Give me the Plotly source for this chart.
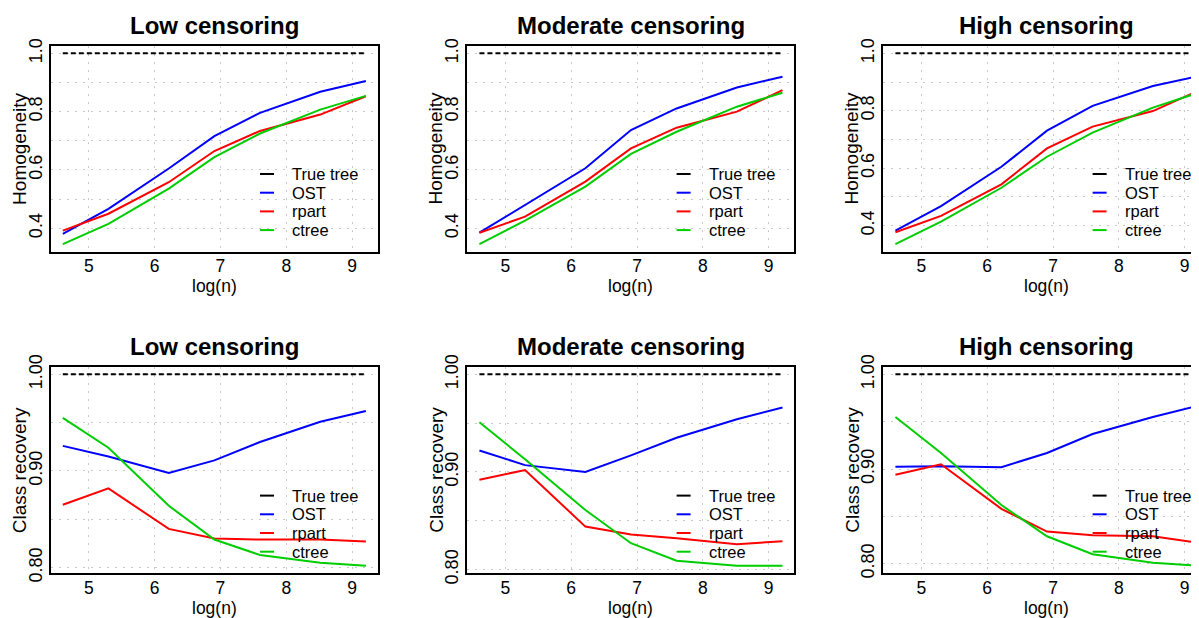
import plotly.graph_objects as go

# ---------------- data ----------------
log_n = [4.605, 5.298, 6.215, 6.908, 7.601, 8.517, 9.210]

series_names = ["True tree", "OST", "rpart", "ctree"]
series_colors = ["black", "#0000FF", "#FF0000", "#00CD00"]

true_tree = [1.0, 1.0, 1.0, 1.0, 1.0, 1.0, 1.0]

hom_low_ost = [0.381, 0.467, 0.605, 0.716, 0.796, 0.868, 0.905]
hom_low_rpart = [0.392, 0.450, 0.558, 0.665, 0.734, 0.790, 0.853]
hom_low_ctree = [0.346, 0.415, 0.536, 0.644, 0.725, 0.807, 0.854]

hom_mod_ost = [0.385, 0.480, 0.606, 0.737, 0.811, 0.883, 0.920]
hom_mod_rpart = [0.385, 0.440, 0.560, 0.674, 0.745, 0.800, 0.874]
hom_mod_ctree = [0.346, 0.426, 0.543, 0.655, 0.731, 0.817, 0.865]

hom_high_ost = [0.383, 0.468, 0.605, 0.731, 0.817, 0.886, 0.921]
hom_high_rpart = [0.377, 0.434, 0.544, 0.669, 0.745, 0.799, 0.870]
hom_high_ctree = [0.336, 0.414, 0.532, 0.640, 0.724, 0.811, 0.863]

cr_low_ost = [0.926, 0.915, 0.898, 0.911, 0.930, 0.951, 0.962]
cr_low_rpart = [0.865, 0.882, 0.840, 0.830, 0.829, 0.829, 0.827]
cr_low_ctree = [0.955, 0.924, 0.864, 0.829, 0.813, 0.805, 0.802]

cr_mod_ost = [0.922, 0.907, 0.900, 0.917, 0.935, 0.954, 0.966]
cr_mod_rpart = [0.892, 0.902, 0.844, 0.836, 0.832, 0.826, 0.829]
cr_mod_ctree = [0.951, 0.913, 0.861, 0.827, 0.809, 0.804, 0.804]

cr_high_ost = [0.9025, 0.903, 0.902, 0.917, 0.937, 0.955, 0.967]
cr_high_rpart = [0.894, 0.905, 0.858, 0.834, 0.830, 0.829, 0.822]
cr_high_ctree = [0.955, 0.917, 0.862, 0.829, 0.810, 0.801, 0.798]

panel_titles = ["Low censoring", "Moderate censoring", "High censoring"]
row_ylabels = ["Homogeneity", "Class recovery"]
x_label = "log(n)"

panels = [
    [true_tree, hom_low_ost, hom_low_rpart, hom_low_ctree],
    [true_tree, hom_mod_ost, hom_mod_rpart, hom_mod_ctree],
    [true_tree, hom_high_ost, hom_high_rpart, hom_high_ctree],
    [true_tree, cr_low_ost, cr_low_rpart, cr_low_ctree],
    [true_tree, cr_mod_ost, cr_mod_rpart, cr_mod_ctree],
    [true_tree, cr_high_ost, cr_high_rpart, cr_high_ctree],
]

# ---------------- layout geometry (screen pixels) ----------------
SCREEN_W, SCREEN_H = 1199, 618
OFF = 8  # page body margin
W, H = SCREEN_W - OFF, SCREEN_H - OFF
col_px = [(50.7, 378.0), (467.3, 794.0), (883.3, 1210.6)]
row_px = [(45.7, 251.7), (366.7, 573.3)]

FONT = "Liberation Sans, Arial, Helvetica, sans-serif"
GRID = "#c8c8c8"
DOT = "2px,6px"

fig = go.Figure()
layout = dict(
    width=W, height=H,
    margin=dict(l=0, r=0, t=0, b=0, autoexpand=False),
    paper_bgcolor="white", plot_bgcolor="white",
    showlegend=False,
    font=dict(family=FONT, color="black"),
)
annotations = []
shapes = []

xlo = min(log_n); xhi = max(log_n)
xpad = 0.04 * (xhi - xlo)
xr_full = [xlo - xpad, xhi + xpad]
px_per_unit = (col_px[0][1] - col_px[0][0]) / (xr_full[1] - xr_full[0])

for idx, data in enumerate(panels):
    r, c = divmod(idx, 3)
    k = idx + 1
    xa = "x" if k == 1 else f"x{k}"
    ya = "y" if k == 1 else f"y{k}"
    xname = "xaxis" if k == 1 else f"xaxis{k}"
    yname = "yaxis" if k == 1 else f"yaxis{k}"

    for name, color, vals in zip(series_names, series_colors, data):
        fig.add_trace(go.Scatter(
            x=log_n, y=vals, mode="lines", name=name,
            line=dict(color=color, width=2,
                      dash="5px,3px" if name == "True tree" else "solid"),
            xaxis=xa, yaxis=ya, showlegend=False, hoverinfo="skip"))

    x0p, x1p = col_px[c]
    y0p, y1p = row_px[r]
    right_px = min(x1p, SCREEN_W)
    xr = [xr_full[0], xr_full[0] + (right_px - x0p) / px_per_unit]

    allv = [v for s in data for v in s]
    ylo, yhi = min(allv), max(allv)
    ypad = 0.04 * (yhi - ylo)

    if r == 0:
        ymaj, ymin_d, yfmt = 0.2, 0.1, ".1f"
    else:
        ymaj, ymin_d, yfmt = 0.1, 0.05, ".2f"

    layout[xname] = dict(
        domain=[(x0p - OFF) / W, (right_px - OFF) / W], range=xr, anchor=ya,
        showline=True, linecolor="black", linewidth=1.5, mirror=True,
        ticks="", tick0=0, dtick=1, showgrid=True, gridcolor=GRID,
        griddash=DOT, gridwidth=1, zeroline=False,
        tickfont=dict(size=17.5, family=FONT, color="black"),
        ticklabelstandoff=-2,
    )
    layout[yname] = dict(
        domain=[1 - (y1p - OFF) / H, 1 - (y0p - OFF) / H],
        range=[ylo - ypad, yhi + ypad],
        anchor=xa,
        showline=True, linecolor="black", linewidth=1.5,
        mirror=(x1p <= SCREEN_W),
        ticks="", tick0=0, dtick=ymaj, tickformat=yfmt, tickangle=-90,
        showgrid=True, gridcolor=GRID, griddash=DOT, gridwidth=1,
        zeroline=False,
        minor=dict(dtick=ymin_d, tick0=0, showgrid=True, gridcolor=GRID,
                   griddash=DOT, gridwidth=1),
        tickfont=dict(size=18, family=FONT, color="black"),
        ticklabelstandoff=0,
    )

    wpx = right_px - x0p
    hpx = y1p - y0p
    xc = (0.5 * (x1p - x0p)) / wpx

    # panel title
    annotations.append(dict(
        text=f"<b>{panel_titles[c]}</b>", xref=f"{xa} domain", yref=f"{ya} domain",
        x=xc, y=1 + 20.5 / hpx,
        xanchor="center", yanchor="middle", showarrow=False,
        font=dict(size=24, family=FONT, color="black")))
    # x axis title
    annotations.append(dict(
        text=x_label, xref=f"{xa} domain", yref=f"{ya} domain",
        x=xc, y=-34.6 / hpx,
        xanchor="center", yanchor="middle", showarrow=False, borderpad=0,
        font=dict(size=17.5, family=FONT, color="black")))
    # y axis title
    annotations.append(dict(
        text=row_ylabels[r], xref=f"{xa} domain", yref=f"{ya} domain",
        x=-31.5 / wpx, y=0.5, textangle=-90,
        xanchor="center", yanchor="middle", showarrow=False,
        font=dict(size=19, family=FONT, color="black")))

    # legend (no box), keys as short line segments
    for j, (name, color) in enumerate(zip(series_names, series_colors)):
        yy = (77.7 - 18.7 * j) / hpx
        shapes.append(dict(
            type="line", xref=f"{xa} domain", yref=f"{ya} domain",
            x0=209.3 / wpx, x1=223.3 / wpx, y0=yy, y1=yy,
            line=dict(color=color, width=2)))
        annotations.append(dict(
            text=name, xref=f"{xa} domain", yref=f"{ya} domain",
            x=240.5 / wpx, y=yy, xanchor="left", yanchor="middle",
            borderpad=0,
            showarrow=False, font=dict(size=16.5, family=FONT, color="black")))

layout["annotations"] = annotations
layout["shapes"] = shapes
fig.update_layout(**layout)
fig.write_html("out.html")
